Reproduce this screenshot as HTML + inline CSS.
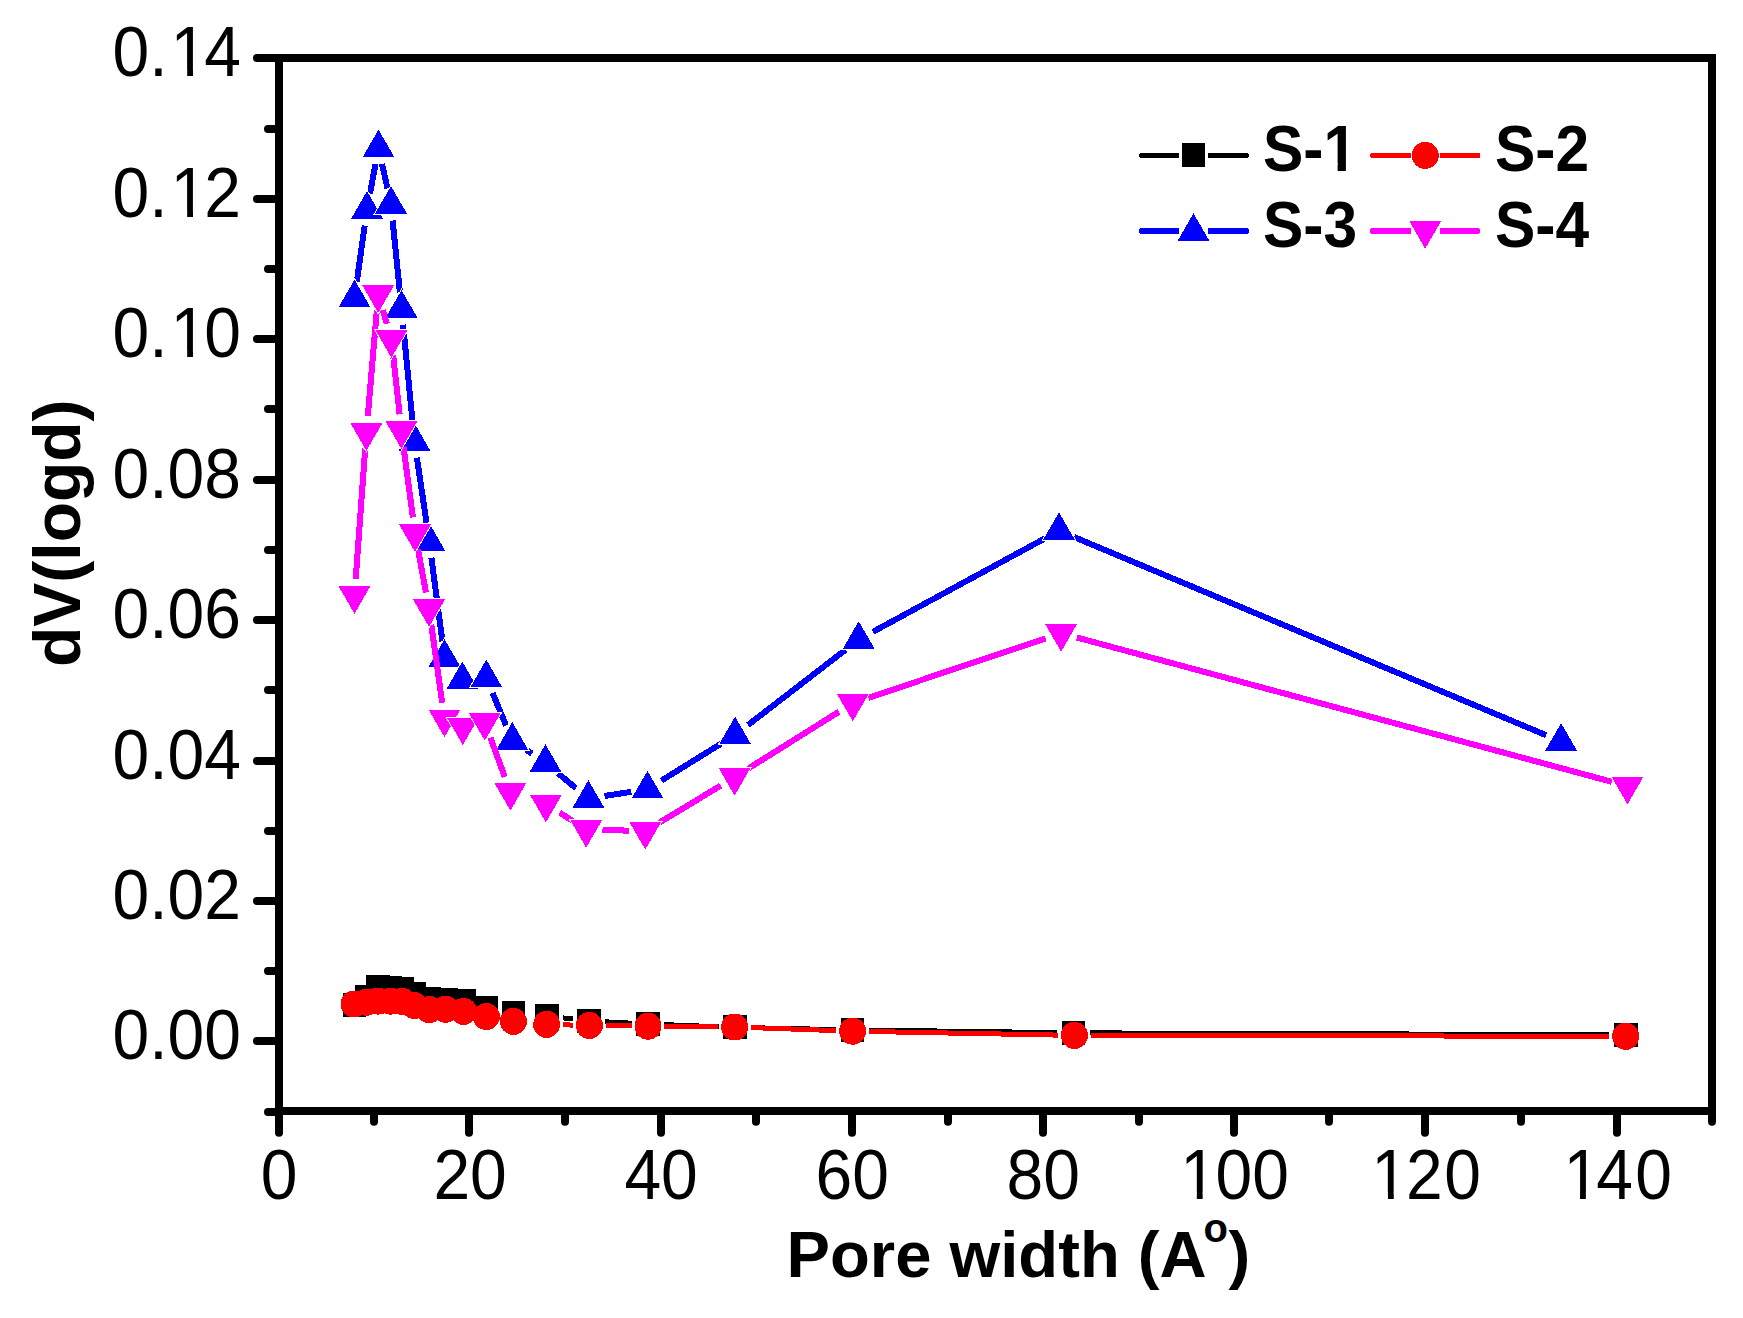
<!DOCTYPE html>
<html lang="en"><head><meta charset="utf-8"><title>Pore width distribution</title>
<style>html,body{margin:0;padding:0;background:#fff}body{width:1743px;height:1318px;overflow:hidden}svg{display:block}</style></head>
<body>
<svg width="1743" height="1318" viewBox="0 0 1743 1318">
<rect width="1743" height="1318" fill="#fff"/>
<g shape-rendering="crispEdges">
<path d="M563.0 1017.9L572.8 1019.0M605.3 1021.8L631.7 1023.2M664.3 1024.6L718.6 1026.8M751.2 1027.7L836.3 1029.6M868.9 1030.1L1057.2 1032.6M1089.8 1032.9L1609.5 1034.7" stroke="#000" stroke-width="5" fill="none" stroke-linecap="butt"/>
<rect x="342.9" y="993.0" width="23.5" height="24" fill="#000"/><rect x="354.9" y="985.0" width="23.5" height="24" fill="#000"/><rect x="366.2" y="975.0" width="23.5" height="24" fill="#000"/><rect x="378.6" y="975.7" width="23.5" height="24" fill="#000"/><rect x="390.6" y="976.7" width="23.5" height="24" fill="#000"/><rect x="402.6" y="982.0" width="23.5" height="24" fill="#000"/><rect x="417.4" y="986.8" width="23.5" height="24" fill="#000"/><rect x="434.4" y="987.7" width="23.5" height="24" fill="#000"/><rect x="452.4" y="988.9" width="23.5" height="24" fill="#000"/><rect x="474.4" y="995.9" width="23.5" height="24" fill="#000"/><rect x="501.8" y="1000.9" width="23.5" height="24" fill="#000"/><rect x="535.0" y="1003.9" width="23.5" height="24" fill="#000"/><rect x="577.2" y="1009.0" width="23.5" height="24" fill="#000"/><rect x="636.2" y="1012.0" width="23.5" height="24" fill="#000"/><rect x="723.1" y="1015.4" width="23.5" height="24" fill="#000"/><rect x="840.9" y="1017.9" width="23.5" height="24" fill="#000"/><rect x="1061.8" y="1020.8" width="23.5" height="24" fill="#000"/><rect x="1614.0" y="1022.8" width="23.5" height="24" fill="#000"/>
<path d="M562.9 1024.8L573.1 1025.1M605.7 1025.7L631.7 1026.0M664.3 1026.4L718.3 1026.8M750.9 1027.6L836.3 1030.6M868.9 1031.5L1058.1 1035.1M1090.7 1035.4L1609.4 1036.3" stroke="#f00" stroke-width="5" fill="none" stroke-linecap="butt"/>
<circle cx="354.0" cy="1004.0" r="13.5" fill="#f00"/><circle cx="366.5" cy="1002.3" r="13.5" fill="#f00"/><circle cx="378.3" cy="1001.1" r="13.5" fill="#f00"/><circle cx="390.5" cy="1001.1" r="13.5" fill="#f00"/><circle cx="402.0" cy="1001.3" r="13.5" fill="#f00"/><circle cx="414.5" cy="1005.6" r="13.5" fill="#f00"/><circle cx="429.3" cy="1009.6" r="13.5" fill="#f00"/><circle cx="445.5" cy="1009.3" r="13.5" fill="#f00"/><circle cx="463.5" cy="1011.4" r="13.5" fill="#f00"/><circle cx="486.4" cy="1016.6" r="13.5" fill="#f00"/><circle cx="513.4" cy="1021.4" r="13.5" fill="#f00"/><circle cx="546.6" cy="1024.4" r="13.5" fill="#f00"/><circle cx="589.4" cy="1025.5" r="13.5" fill="#f00"/><circle cx="648.0" cy="1026.2" r="13.5" fill="#f00"/><circle cx="734.6" cy="1027.0" r="13.5" fill="#f00"/><circle cx="852.6" cy="1031.2" r="13.5" fill="#f00"/><circle cx="1074.4" cy="1035.4" r="13.5" fill="#f00"/><circle cx="1625.7" cy="1036.3" r="13.5" fill="#f00"/>
<path d="M356.8 281.9L364.7 225.6M370.0 193.5L375.5 164.0M382.0 163.9L387.5 188.5M392.6 220.6L399.9 292.3M403.1 324.7L412.9 425.4M416.9 457.7L426.9 525.4M431.4 557.7L442.4 641.3M492.6 693.0L506.0 725.5M525.8 749.6L532.0 753.6M558.0 773.2L575.9 788.1M604.5 796.0L631.4 791.8M661.4 780.6L721.2 743.6M748.0 725.0L845.8 649.6M873.0 631.8L1044.7 538.5M1074.0 537.0L1546.1 735.2" stroke="#00f" stroke-width="6" fill="none" stroke-linecap="butt"/>
<path d="M354.5 279.6L370.4 307.2L338.6 307.2Z" fill="#fff" stroke="#fff" stroke-width="2"/><path d="M354.5 279.6L370.4 307.2L338.6 307.2Z" fill="#00f"/><path d="M367.0 191.1L382.9 218.7L351.1 218.7Z" fill="#fff" stroke="#fff" stroke-width="2"/><path d="M367.0 191.1L382.9 218.7L351.1 218.7Z" fill="#00f"/><path d="M378.5 129.6L394.4 157.2L362.6 157.2Z" fill="#fff" stroke="#fff" stroke-width="2"/><path d="M378.5 129.6L394.4 157.2L362.6 157.2Z" fill="#00f"/><path d="M391.0 186.0L406.9 213.6L375.1 213.6Z" fill="#fff" stroke="#fff" stroke-width="2"/><path d="M391.0 186.0L406.9 213.6L375.1 213.6Z" fill="#00f"/><path d="M401.5 290.1L417.4 317.7L385.6 317.7Z" fill="#fff" stroke="#fff" stroke-width="2"/><path d="M401.5 290.1L417.4 317.7L385.6 317.7Z" fill="#00f"/><path d="M414.5 423.2L430.4 450.8L398.6 450.8Z" fill="#fff" stroke="#fff" stroke-width="2"/><path d="M414.5 423.2L430.4 450.8L398.6 450.8Z" fill="#00f"/><path d="M429.3 523.1L445.2 550.7L413.4 550.7Z" fill="#fff" stroke="#fff" stroke-width="2"/><path d="M429.3 523.1L445.2 550.7L413.4 550.7Z" fill="#00f"/><path d="M444.5 639.1L460.4 666.7L428.6 666.7Z" fill="#fff" stroke="#fff" stroke-width="2"/><path d="M444.5 639.1L460.4 666.7L428.6 666.7Z" fill="#00f"/><path d="M462.3 661.6L478.2 689.2L446.4 689.2Z" fill="#fff" stroke="#fff" stroke-width="2"/><path d="M462.3 661.6L478.2 689.2L446.4 689.2Z" fill="#00f"/><path d="M486.3 659.6L502.2 687.2L470.4 687.2Z" fill="#fff" stroke="#fff" stroke-width="2"/><path d="M486.3 659.6L502.2 687.2L470.4 687.2Z" fill="#00f"/><path d="M512.3 722.1L528.2 749.7L496.4 749.7Z" fill="#fff" stroke="#fff" stroke-width="2"/><path d="M512.3 722.1L528.2 749.7L496.4 749.7Z" fill="#00f"/><path d="M545.5 744.3L561.4 771.9L529.6 771.9Z" fill="#fff" stroke="#fff" stroke-width="2"/><path d="M545.5 744.3L561.4 771.9L529.6 771.9Z" fill="#00f"/><path d="M588.4 780.2L604.3 807.8L572.5 807.8Z" fill="#fff" stroke="#fff" stroke-width="2"/><path d="M588.4 780.2L604.3 807.8L572.5 807.8Z" fill="#00f"/><path d="M647.5 770.8L663.4 798.4L631.6 798.4Z" fill="#fff" stroke="#fff" stroke-width="2"/><path d="M647.5 770.8L663.4 798.4L631.6 798.4Z" fill="#00f"/><path d="M735.1 716.6L751.0 744.2L719.2 744.2Z" fill="#fff" stroke="#fff" stroke-width="2"/><path d="M735.1 716.6L751.0 744.2L719.2 744.2Z" fill="#00f"/><path d="M858.7 621.2L874.6 648.8L842.8 648.8Z" fill="#fff" stroke="#fff" stroke-width="2"/><path d="M858.7 621.2L874.6 648.8L842.8 648.8Z" fill="#00f"/><path d="M1059.0 512.3L1074.9 539.9L1043.1 539.9Z" fill="#fff" stroke="#fff" stroke-width="2"/><path d="M1059.0 512.3L1074.9 539.9L1043.1 539.9Z" fill="#00f"/><path d="M1561.1 723.1L1577.0 750.7L1545.2 750.7Z" fill="#fff" stroke="#fff" stroke-width="2"/><path d="M1561.1 723.1L1577.0 750.7L1545.2 750.7Z" fill="#00f"/>
<path d="M355.7 579.1L365.2 448.7M367.8 416.2L376.8 310.7M382.8 310.1L386.8 323.8M393.2 355.6L399.6 414.3M403.5 446.7L412.9 517.4M418.0 549.6L426.0 592.6M431.3 624.7L442.2 702.7M490.4 737.6L504.8 777.0M559.7 812.7L572.4 820.7M602.5 829.8L629.0 830.7M659.2 822.8L720.7 785.6M748.4 768.5L839.0 711.7M868.3 697.8L1045.6 638.5M1076.8 637.5L1611.8 781.8" stroke="#f0f" stroke-width="6" fill="none" stroke-linecap="butt"/>
<path d="M338.6 586.2L370.4 586.2L354.5 613.8Z" fill="#fff" stroke="#fff" stroke-width="2"/><path d="M338.6 586.2L370.4 586.2L354.5 613.8Z" fill="#f0f"/><path d="M350.5 423.2L382.3 423.2L366.4 450.8Z" fill="#fff" stroke="#fff" stroke-width="2"/><path d="M350.5 423.2L382.3 423.2L366.4 450.8Z" fill="#f0f"/><path d="M362.3 285.3L394.1 285.3L378.2 312.9Z" fill="#fff" stroke="#fff" stroke-width="2"/><path d="M362.3 285.3L394.1 285.3L378.2 312.9Z" fill="#f0f"/><path d="M375.5 330.2L407.3 330.2L391.4 357.8Z" fill="#fff" stroke="#fff" stroke-width="2"/><path d="M375.5 330.2L407.3 330.2L391.4 357.8Z" fill="#f0f"/><path d="M385.5 421.3L417.3 421.3L401.4 448.9Z" fill="#fff" stroke="#fff" stroke-width="2"/><path d="M385.5 421.3L417.3 421.3L401.4 448.9Z" fill="#f0f"/><path d="M399.1 524.4L430.9 524.4L415.0 552.0Z" fill="#fff" stroke="#fff" stroke-width="2"/><path d="M399.1 524.4L430.9 524.4L415.0 552.0Z" fill="#f0f"/><path d="M413.1 599.4L444.9 599.4L429.0 627.0Z" fill="#fff" stroke="#fff" stroke-width="2"/><path d="M413.1 599.4L444.9 599.4L429.0 627.0Z" fill="#f0f"/><path d="M428.6 709.6L460.4 709.6L444.5 737.2Z" fill="#fff" stroke="#fff" stroke-width="2"/><path d="M428.6 709.6L460.4 709.6L444.5 737.2Z" fill="#f0f"/><path d="M446.9 717.5L478.7 717.5L462.8 745.1Z" fill="#fff" stroke="#fff" stroke-width="2"/><path d="M446.9 717.5L478.7 717.5L462.8 745.1Z" fill="#f0f"/><path d="M468.9 713.1L500.7 713.1L484.8 740.7Z" fill="#fff" stroke="#fff" stroke-width="2"/><path d="M468.9 713.1L500.7 713.1L484.8 740.7Z" fill="#f0f"/><path d="M494.5 783.1L526.3 783.1L510.4 810.7Z" fill="#fff" stroke="#fff" stroke-width="2"/><path d="M494.5 783.1L526.3 783.1L510.4 810.7Z" fill="#f0f"/><path d="M530.0 794.9L561.8 794.9L545.9 822.5Z" fill="#fff" stroke="#fff" stroke-width="2"/><path d="M530.0 794.9L561.8 794.9L545.9 822.5Z" fill="#f0f"/><path d="M570.3 820.1L602.1 820.1L586.2 847.7Z" fill="#fff" stroke="#fff" stroke-width="2"/><path d="M570.3 820.1L602.1 820.1L586.2 847.7Z" fill="#f0f"/><path d="M629.4 822.0L661.2 822.0L645.3 849.6Z" fill="#fff" stroke="#fff" stroke-width="2"/><path d="M629.4 822.0L661.2 822.0L645.3 849.6Z" fill="#f0f"/><path d="M718.7 768.0L750.5 768.0L734.6 795.6Z" fill="#fff" stroke="#fff" stroke-width="2"/><path d="M718.7 768.0L750.5 768.0L734.6 795.6Z" fill="#f0f"/><path d="M836.9 693.8L868.7 693.8L852.8 721.4Z" fill="#fff" stroke="#fff" stroke-width="2"/><path d="M836.9 693.8L868.7 693.8L852.8 721.4Z" fill="#f0f"/><path d="M1045.2 624.1L1077.0 624.1L1061.1 651.7Z" fill="#fff" stroke="#fff" stroke-width="2"/><path d="M1045.2 624.1L1077.0 624.1L1061.1 651.7Z" fill="#f0f"/><path d="M1611.6 776.8L1643.4 776.8L1627.5 804.4Z" fill="#fff" stroke="#fff" stroke-width="2"/><path d="M1611.6 776.8L1643.4 776.8L1627.5 804.4Z" fill="#f0f"/>
</g>
<g shape-rendering="crispEdges" stroke="#000" stroke-width="8" fill="none">
<rect x="279.0" y="58.0" width="1433.0" height="1053.2"/>
</g>
<path d="M257 1041H279.0M257 901H279.0M257 761H279.0M257 620H279.0M257 480H279.0M257 339H279.0M257 199H279.0M257 58H279.0M268 1112H279.0M268 971H279.0M268 831H279.0M268 690H279.0M268 550H279.0M268 409H279.0M268 269H279.0M268 129H279.0M279 1111.2V1132.7M469 1111.2V1132.7M661 1111.2V1132.7M852 1111.2V1132.7M1043 1111.2V1132.7M1234 1111.2V1132.7M1425 1111.2V1132.7M1617 1111.2V1132.7M374 1111.2V1121.7M565 1111.2V1121.7M756 1111.2V1121.7M948 1111.2V1121.7M1139 1111.2V1121.7M1329 1111.2V1121.7M1521 1111.2V1121.7M1712 1111.2V1121.7" stroke="#000" stroke-width="8" stroke-linecap="round" fill="none"/>
<g font-family="'Liberation Sans', Arial, sans-serif" font-size="66" fill="#000">
<text class="L" transform="translate(241.0 1059.0) scale(1 1.055)" text-anchor="end">0.00</text>
<text class="L" transform="translate(241.0 919.0) scale(1 1.055)" text-anchor="end">0.02</text>
<text class="L" transform="translate(241.0 779.0) scale(1 1.055)" text-anchor="end">0.04</text>
<text class="L" transform="translate(241.0 638.0) scale(1 1.055)" text-anchor="end">0.06</text>
<text class="L" transform="translate(241.0 498.0) scale(1 1.055)" text-anchor="end">0.08</text>
<text class="L" transform="translate(241.0 357.0) scale(1 1.055)" text-anchor="end">0.<tspan dx="3">1</tspan><tspan dx="-3">0</tspan></text>
<text class="L" transform="translate(241.0 217.0) scale(1 1.055)" text-anchor="end">0.<tspan dx="3">1</tspan><tspan dx="-3">2</tspan></text>
<text class="L" transform="translate(241.0 76.0) scale(1 1.055)" text-anchor="end">0.<tspan dx="3">1</tspan><tspan dx="-3">4</tspan></text>
<text class="L" transform="translate(279.0 1199.1) scale(1 1.055)" text-anchor="middle">0</text>
<text class="L" transform="translate(470.1 1199.1) scale(1 1.055)" text-anchor="middle">20</text>
<text class="L" transform="translate(661.1 1199.1) scale(1 1.055)" text-anchor="middle">40</text>
<text class="L" transform="translate(852.2 1199.1) scale(1 1.055)" text-anchor="middle">60</text>
<text class="L" transform="translate(1043.3 1199.1) scale(1 1.055)" text-anchor="middle">80</text>
<text class="L" transform="translate(1234.3 1199.1) scale(1 1.055)" text-anchor="middle"><tspan dx="0.25">1</tspan><tspan dx="-1.5">0</tspan>0</text>
<text class="L" transform="translate(1425.4 1199.1) scale(1 1.055)" text-anchor="middle"><tspan dx="0.75">1</tspan><tspan dx="-2">2</tspan><tspan dx="1.5">0</tspan></text>
<text class="L" transform="translate(1616.5 1199.1) scale(1 1.055)" text-anchor="middle"><tspan dx="1.25">1</tspan><tspan dx="-4">4</tspan><tspan dx="2.5">0</tspan></text>
</g>
<g font-family="'Liberation Sans', Arial, sans-serif" font-weight="bold" fill="#000">
<text x="786.5" y="1277" font-size="65.2">Pore width (A<tspan font-size="40" dy="-35.5" dx="-3">o</tspan><tspan dy="35.5" dx="0.5">)</tspan></text>
<text transform="translate(80 667) rotate(-90)" font-size="66">dV(logd)</text>
<g font-size="60.5">
<text class="L" transform="translate(1263.0 170.6) scale(1 1.06)">S-1</text>
<text class="L" transform="translate(1495.0 170.6) scale(1 1.06)">S-2</text>
<text class="L" transform="translate(1263.0 246.6) scale(1 1.06)">S-3</text>
<text class="L" transform="translate(1495.0 246.6) scale(1 1.06)">S-4</text>
</g></g>
<g fill="#fff"><rect x="174.10" y="350.60" width="13.07" height="7.90"/><rect x="193.01" y="350.60" width="12.55" height="7.90"/><rect x="174.10" y="210.60" width="13.07" height="7.90"/><rect x="193.01" y="210.60" width="12.55" height="7.90"/><rect x="174.10" y="69.60" width="13.07" height="7.90"/><rect x="193.01" y="69.60" width="12.55" height="7.90"/><rect x="1183.76" y="1192.70" width="13.07" height="7.90"/><rect x="1202.66" y="1192.70" width="12.55" height="7.90"/><rect x="1374.86" y="1192.70" width="13.07" height="7.90"/><rect x="1393.76" y="1192.70" width="12.55" height="7.90"/><rect x="1566.96" y="1192.70" width="13.07" height="7.90"/><rect x="1585.86" y="1192.70" width="12.55" height="7.90"/><rect x="1325.80" y="162.86" width="11.81" height="9.24"/><rect x="1345.91" y="162.86" width="11.04" height="9.24"/></g>
<g shape-rendering="crispEdges" fill="none">
<path d="M1141.5 155.5H1179.0M1208.0 155.5H1246.5" stroke="#000" stroke-width="5"/><circle cx="1141.5" cy="155.5" r="2.5" fill="#000"/><circle cx="1246.5" cy="155.5" r="2.5" fill="#000"/>
<path d="M1372.5 155.5H1410.8M1439.8 155.5H1478.0" stroke="#f00" stroke-width="5"/><circle cx="1372.5" cy="155.5" r="2.5" fill="#f00"/><circle cx="1478.0" cy="155.5" r="2.5" fill="#f00"/>
<path d="M1142.0 231.0H1179.0M1208.0 231.0H1246.0" stroke="#00f" stroke-width="6"/><circle cx="1142.0" cy="231.0" r="3.0" fill="#00f"/><circle cx="1246.0" cy="231.0" r="3.0" fill="#00f"/>
<path d="M1373.0 231.0H1410.8M1439.8 231.0H1477.5" stroke="#f0f" stroke-width="6"/><circle cx="1373.0" cy="231.0" r="3.0" fill="#f0f"/><circle cx="1477.5" cy="231.0" r="3.0" fill="#f0f"/>
</g><g shape-rendering="crispEdges">
<rect x="1181.8" y="143.0" width="23.5" height="24" fill="#000"/>
<circle cx="1425.3" cy="155.4" r="13.5" fill="#f00"/>
<path d="M1193.5 213.3L1209.4 240.9L1177.6 240.9Z" fill="#00f"/>
<path d="M1409.3 221.1L1441.1 221.1L1425.2 248.7Z" fill="#f0f"/>
</g>
</svg>
</body></html>
